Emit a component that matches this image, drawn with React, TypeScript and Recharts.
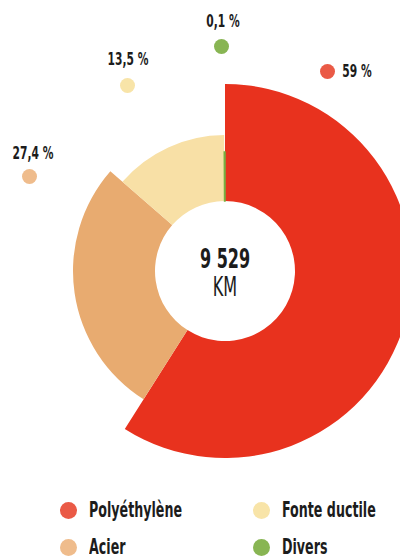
import React from 'react';
import { PieChart, Pie, Cell } from 'recharts';

// network length by pipe material
const materials = ['Polyéthylène', 'Acier', 'Fonte ductile', 'Divers'];
const shares = [59, 27.4, 13.5, 0.1];
const shareLabels = ['59 %', '27,4 %', '13,5 %', '0,1 %'];
const totalLabel = '9 529';
const unitLabel = 'KM';

const colors = ['#e8321e', '#e8ab70', '#f8e0a6', '#76b043'];
const legendColors = ['#ea5a46', '#efbc8c', '#f8e4a8', '#88b553'];
const radii = [187, 152, 136, 119];

// where the loose percentage callouts sit (dot centre, text centre)
const callouts = [
    { dot: [327, 71], text: [357, 71] },
    { dot: [29, 176], text: [33, 153] },
    { dot: [127, 85], text: [128, 59] },
    { dot: [221, 46], text: [223, 21] },
];

const font = '"DejaVu Sans Condensed", "DejaVu Sans", sans-serif';
const pieData = materials.map((name, i) => ({ name, value: shares[i] }));

const Dot: React.FC<{ x: number; y: number; color: string; size?: number }> = ({ x, y, color, size = 15 }) => (
    <div style={{ position: 'absolute', left: x - size / 2, top: y - size / 2, width: size, height: size, borderRadius: '50%', background: color }} />
);

export default function App() {
    return (
        <div style={{ position: 'absolute', left: 0, top: 0, width: 400, height: 560, background: '#fff', overflow: 'hidden', fontFamily: font, color: '#1c1c1c' }}>
            <PieChart width={400} height={560} margin={{ top: 0, right: 0, bottom: 0, left: 0 }}>
                {radii.map((r, k) => (
                    <Pie
                        key={k}
                        data={pieData}
                        dataKey="value"
                        cx={225}
                        cy={271}
                        innerRadius={70}
                        outerRadius={r}
                        startAngle={90}
                        endAngle={-270}
                        stroke="none"
                        isAnimationActive={false}
                    >
                        {pieData.map((d, i) => (
                            <Cell
                                key={i}
                                fill={i === k ? colors[i] : 'transparent'}
                                stroke={i === k && i === 3 ? colors[i] : 'none'}
                                strokeWidth={1.5}
                            />
                        ))}
                    </Pie>
                ))}
            </PieChart>

            <div style={{ position: 'absolute', left: 175, top: 245, width: 100, textAlign: 'center', fontSize: 27, lineHeight: '28px', transform: 'scaleX(0.66)' }}>
                <div style={{ fontWeight: 'bold' }}>{totalLabel}</div>
                <div>{unitLabel}</div>
            </div>

            {callouts.map((c, i) => (
                <React.Fragment key={i}>
                    <Dot x={c.dot[0]} y={c.dot[1]} color={legendColors[i]} />
                    <div style={{ position: 'absolute', left: c.text[0] - 40, top: c.text[1] - 11, width: 80, textAlign: 'center', fontSize: 18, fontWeight: 'bold', lineHeight: '22px', transform: 'scaleX(0.66)' }}>
                        {shareLabels[i]}
                    </div>
                </React.Fragment>
            ))}

            {materials.map((m, n) => {
                const col = Math.floor(n / 2);
                const row = n % 2;
                const x = col === 0 ? 68 : 261;
                const y = row === 0 ? 510 : 547;
                return (
                    <React.Fragment key={m}>
                        <Dot x={x} y={y} color={legendColors[n]} size={17} />
                        <div style={{ position: 'absolute', left: x + 21, top: y - 12, fontSize: 22, fontWeight: 'bold', lineHeight: '24px', whiteSpace: 'nowrap', transform: 'scaleX(0.64)', transformOrigin: 'left center' }}>
                            {m}
                        </div>
                    </React.Fragment>
                );
            })}
        </div>
    );
}
